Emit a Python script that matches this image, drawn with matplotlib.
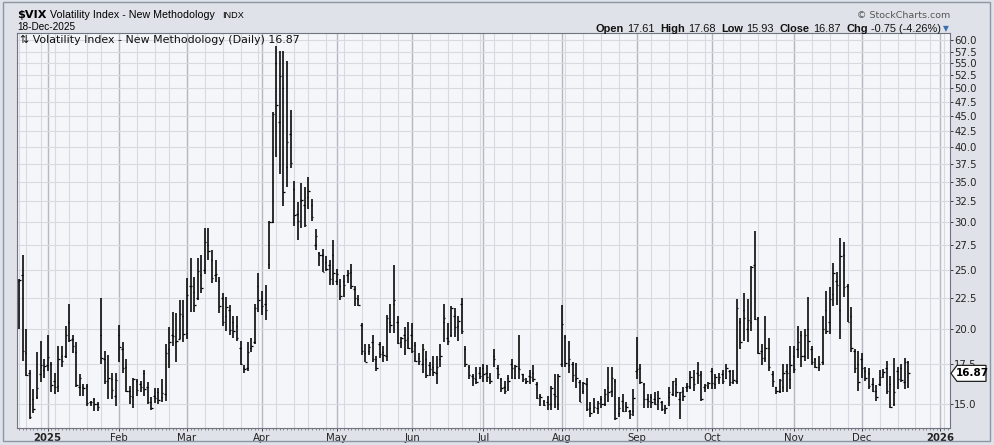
import numpy as np
import pandas as pd
import matplotlib
matplotlib.use('Agg')
import matplotlib.pyplot as plt
from matplotlib.ticker import FixedLocator, FormatStrFormatter, NullLocator
from matplotlib.patches import Polygon, Rectangle

W, H = 994, 445

# daily bars: (open, high, low, close)
dec24 = [(24.0, 24.2, 20.0, 24.09), (24.5, 26.5, 17.7, 18.36), (18.2, 20.0, 16.7, 16.78),
         (16.9, 17.1, 14.2, 14.27), (15.3, 15.9, 14.5, 14.73), (15.4, 18.3, 15.3, 15.95),
         (16.8, 19.1, 16.35, 17.40), (17.1, 17.8, 16.6, 17.35)]
jan = [(17.4, 19.5, 17.0, 17.93), (17.5, 17.6, 15.7, 16.13), (16.4, 16.9, 15.6, 16.04),
       (16.1, 18.7, 15.7, 17.82), (18.0, 18.7, 17.3, 17.70), (18.0, 20.2, 17.9, 19.54),
       (20.5, 22.0, 19.0, 19.19), (19.2, 19.5, 18.2, 18.71), (18.3, 19.0, 16.0, 16.12),
       (16.0, 16.8, 15.5, 16.60), (16.0, 16.2, 15.45, 15.97), (16.1, 16.2, 14.9, 15.06),
       (15.1, 15.2, 14.9, 15.10), (15.3, 15.35, 14.6, 15.02), (15.0, 15.15, 14.6, 14.85),
       (19.5, 22.5, 17.5, 17.90), (17.8, 18.4, 16.2, 16.41), (16.4, 18.1, 15.3, 16.56),
       (16.5, 16.9, 15.3, 15.84), (15.5, 16.9, 14.9, 16.43)]
feb = [(19.5, 20.3, 17.6, 18.62), (18.5, 19.0, 16.9, 17.21), (17.3, 17.8, 15.7, 15.77),
       (15.8, 16.1, 15.0, 15.50), (15.4, 16.6, 14.8, 16.54), (16.4, 16.5, 15.5, 15.81),
       (16.2, 16.4, 15.7, 16.02), (16.9, 17.1, 15.5, 15.89), (16.0, 16.3, 15.0, 15.10),
       (15.1, 15.4, 14.7, 14.77), (15.5, 15.95, 15.05, 15.35), (15.7, 15.95, 15.0, 15.27),
       (15.4, 16.5, 15.1, 15.66), (15.6, 18.9, 15.2, 18.21), (18.5, 20.1, 17.2, 18.98),
       (19.5, 21.3, 18.75, 19.43), (19.0, 21.2, 17.6, 19.10), (19.2, 22.3, 19.2, 21.13),
       (21.0, 22.3, 19.0, 19.63)]
mar = [(19.7, 24.3, 19.2, 22.78), (23.5, 26.2, 21.3, 23.51), (23.0, 24.4, 21.3, 21.93),
       (22.5, 26.2, 22.3, 24.87), (24.5, 26.5, 22.9, 23.37), (25.0, 29.3, 24.6, 27.86),
       (27.5, 29.3, 26.0, 26.92), (26.0, 27.0, 23.8, 24.23), (24.5, 26.0, 23.9, 24.66),
       (24.0, 24.4, 21.2, 21.77), (22.5, 22.9, 20.2, 20.51), (21.0, 22.6, 19.8, 21.70),
       (21.5, 21.9, 19.5, 19.90), (20.5, 21.0, 19.3, 19.80), (20.2, 21.0, 19.1, 19.28),
       (18.6, 19.1, 17.4, 17.48), (17.2, 17.4, 16.9, 17.15), (17.2, 19.0, 17.0, 18.33),
       (18.6, 19.3, 18.3, 18.69), (19.0, 22.0, 18.9, 21.65), (23.5, 24.7, 21.3, 22.28)]
apr = [(22.5, 23.1, 21.1, 21.77), (22.0, 23.6, 20.7, 21.51), (25.6, 30.1, 25.1, 30.02),
       (30.0, 45.6, 29.9, 45.31), (55.0, 58.7, 38.4, 46.98), (44.0, 57.6, 36.1, 52.33),
       (50.0, 57.6, 31.9, 33.62), (37.0, 55.4, 34.3, 40.72), (42.0, 46.0, 36.9, 37.56),
       (34.0, 35.1, 29.6, 30.89), (31.0, 32.4, 28.0, 30.12), (32.5, 34.8, 29.3, 32.64),
       (32.0, 34.3, 29.5, 29.65), (33.0, 35.6, 31.6, 33.82), (32.0, 32.8, 30.2, 30.57),
       (27.5, 29.2, 27.0, 28.45), (26.7, 26.8, 25.4, 26.47), (26.5, 27.1, 24.8, 24.84),
       (25.8, 26.4, 24.9, 25.15), (25.5, 26.0, 23.6, 24.17), (26.5, 28.0, 23.6, 24.70)]
may = [(24.0, 25.1, 23.6, 24.60), (23.5, 24.2, 22.3, 22.68), (24.0, 24.5, 22.6, 23.64),
       (24.5, 25.0, 23.8, 24.76), (24.8, 25.6, 23.3, 23.55), (23.3, 23.5, 21.8, 22.48),
       (22.4, 22.7, 21.8, 21.90), (20.3, 20.4, 18.1, 18.39), (18.2, 18.9, 17.6, 17.61),
       (18.4, 18.9, 18.1, 18.62), (19.0, 19.5, 17.6, 17.83), (17.8, 18.0, 17.0, 17.24),
       (18.9, 19.0, 17.9, 18.14), (18.3, 18.7, 17.6, 18.09), (18.0, 21.1, 17.7, 20.87),
       (20.5, 22.0, 19.7, 20.28), (22.0, 25.5, 19.7, 22.29), (20.5, 21.0, 18.9, 18.96),
       (19.0, 19.4, 18.6, 19.31), (19.5, 20.1, 18.1, 19.18), (19.3, 20.5, 18.5, 18.57)]
jun = [(19.5, 20.4, 18.2, 18.36), (18.8, 19.0, 17.6, 17.69), (17.9, 18.2, 17.4, 17.68),
       (17.5, 18.9, 16.9, 18.48), (17.8, 18.4, 16.6, 16.77), (17.4, 17.6, 16.7, 17.16),
       (17.3, 18.0, 16.7, 16.95), (16.9, 18.0, 16.2, 17.26), (17.8, 18.9, 17.3, 18.02),
       (20.5, 22.0, 19.0, 20.82), (19.3, 20.4, 18.8, 19.11), (19.5, 21.8, 19.4, 21.60),
       (21.0, 21.6, 19.4, 20.14), (20.2, 21.0, 19.1, 20.62), (22.0, 22.5, 19.6, 19.83),
       (18.5, 18.7, 17.3, 17.48), (17.3, 17.4, 16.5, 16.76), (16.7, 16.8, 16.1, 16.59),
       (16.5, 17.3, 16.2, 16.32), (16.9, 17.3, 16.5, 16.73)]
jul = [(17.2, 17.5, 16.3, 16.83), (16.9, 17.4, 16.3, 16.64), (16.5, 16.9, 16.2, 16.38),
       (18.0, 18.5, 17.3, 17.79), (17.2, 17.4, 16.5, 16.81), (16.5, 16.6, 15.7, 15.94),
       (16.0, 16.4, 15.6, 15.78), (16.6, 16.75, 15.8, 16.40), (17.5, 17.8, 16.5, 17.20),
       (16.6, 17.4, 16.5, 17.38), (17.2, 19.5, 16.5, 17.16), (16.8, 16.85, 16.3, 16.52),
       (16.3, 16.6, 16.2, 16.41), (16.7, 17.1, 16.2, 16.65), (16.9, 17.4, 16.3, 16.50),
       (16.2, 16.3, 15.3, 15.37), (15.5, 15.6, 14.9, 15.39), (15.2, 15.25, 14.9, 14.93),
       (15.1, 15.5, 14.7, 15.03), (15.0, 16.1, 14.7, 15.98), (15.6, 16.8, 14.8, 15.48),
       (15.0, 16.8, 14.7, 16.72)]
aug = [(17.5, 21.9, 17.3, 20.38), (19.4, 19.5, 17.3, 17.52), (17.4, 19.1, 16.9, 17.85),
       (17.5, 17.6, 16.35, 16.77), (16.5, 17.55, 15.95, 16.57), (16.3, 16.45, 15.1, 15.15),
       (15.8, 16.35, 15.6, 16.25), (16.2, 16.55, 14.6, 14.73), (14.8, 15.1, 14.3, 14.49),
       (14.6, 15.35, 14.5, 14.83), (14.8, 15.2, 14.45, 15.09), (15.3, 15.5, 14.8, 14.99),
       (15.0, 15.9, 14.9, 15.57), (16.0, 17.3, 15.1, 15.69), (15.8, 17.3, 15.4, 16.60),
       (16.4, 16.5, 14.15, 14.22), (14.5, 15.4, 14.3, 14.79), (15.2, 15.6, 14.55, 14.62),
       (14.9, 15.1, 14.55, 14.85), (14.6, 14.7, 14.2, 14.43), (14.6, 15.9, 14.35, 15.36)]
sep = [(17.0, 19.4, 16.5, 17.17), (17.2, 17.5, 16.2, 16.35), (16.2, 16.25, 14.8, 15.30),
       (15.3, 15.6, 14.8, 15.18), (15.4, 15.6, 14.8, 15.11), (15.3, 15.7, 14.95, 15.04),
       (15.2, 15.8, 14.7, 15.35), (15.1, 15.2, 14.6, 14.71), (14.7, 14.95, 14.45, 14.76),
       (15.4, 16.0, 14.9, 15.69), (15.6, 16.4, 15.5, 16.36), (16.2, 16.6, 15.4, 15.72),
       (15.3, 15.7, 14.2, 15.70), (15.8, 16.0, 15.2, 15.45), (16.0, 16.25, 15.7, 16.10),
       (16.0, 17.0, 15.9, 16.64), (16.5, 17.1, 15.8, 16.18), (16.9, 17.6, 16.2, 16.74),
       (16.8, 17.0, 15.2, 15.29), (16.0, 16.2, 15.7, 16.12), (16.1, 16.3, 15.9, 16.28)]
oct_ = [(17.0, 17.2, 15.9, 16.29), (16.2, 16.8, 15.9, 16.63), (16.5, 16.9, 16.2, 16.65),
        (16.8, 17.1, 16.2, 16.37), (16.6, 17.5, 16.5, 17.24), (17.0, 17.1, 16.1, 16.30),
        (16.3, 17.1, 16.2, 16.43), (16.4, 22.4, 16.2, 21.66), (20.5, 20.8, 18.5, 19.03),
        (21.5, 22.9, 19.1, 20.81), (20.0, 22.4, 19.0, 20.64), (20.5, 25.4, 19.8, 25.31),
        (25.5, 28.99, 20.7, 20.78), (20.8, 20.9, 18.15, 18.23), (18.4, 18.9, 17.4, 17.87),
        (17.9, 21.0, 17.6, 18.60), (18.6, 19.3, 17.0, 17.30), (16.8, 17.0, 16.0, 16.37),
        (16.0, 16.0, 15.6, 15.79), (15.8, 16.5, 15.65, 16.42), (16.0, 17.5, 15.7, 16.92),
        (17.0, 17.5, 15.7, 16.91), (16.5, 18.7, 15.9, 17.44)]
nov = [(18.0, 18.7, 16.9, 17.17), (18.5, 20.2, 17.9, 19.00), (19.5, 19.8, 17.3, 18.01),
       (18.0, 20.0, 17.7, 19.50), (20.0, 22.6, 17.8, 19.08), (18.5, 18.7, 17.4, 17.60),
       (17.8, 17.9, 17.2, 17.28), (17.3, 18.0, 17.0, 17.51), (17.6, 21.0, 17.4, 20.00),
       (21.5, 23.1, 19.6, 19.83), (20.5, 23.4, 19.6, 22.38), (22.8, 25.7, 21.8, 24.69),
       (24.0, 24.8, 21.9, 23.66), (21.5, 28.27, 19.2, 26.42), (26.5, 27.8, 22.6, 23.43),
       (23.5, 23.7, 20.5, 20.52), (21.0, 21.7, 18.3, 18.56), (18.4, 18.5, 16.9, 17.19),
       (17.5, 18.4, 15.8, 16.35)]
dec = [(17.8, 18.2, 16.6, 17.24), (17.0, 17.3, 16.4, 16.59), (16.9, 17.2, 15.9, 16.08),
       (16.2, 16.6, 15.7, 15.78), (15.8, 16.15, 15.2, 15.41), (16.2, 17.1, 16.1, 16.66),
       (16.8, 17.15, 16.55, 16.93), (17.2, 17.7, 15.6, 15.77), (16.2, 16.7, 14.8, 14.85),
       (15.0, 17.9, 14.9, 15.74), (17.0, 17.3, 15.9, 16.50), (17.2, 17.5, 16.3, 16.48),
       (16.3, 17.9, 15.9, 17.62), (17.61, 17.68, 15.93, 16.87)]

y_ticks = [15.0, 17.5, 20.0, 22.5, 25.0, 27.5, 30.0, 32.5, 35.0, 37.5, 40.0,
           42.5, 45.0, 47.5, 50.0, 52.5, 55.0, 57.5, 60.0]
holidays = ['2024-12-25', '2025-01-01', '2025-01-09', '2025-01-20', '2025-02-17',
            '2025-04-18', '2025-05-26', '2025-06-19', '2025-07-04', '2025-09-01',
            '2025-11-27', '2025-12-25', '2026-01-01']

bars = np.array(dec24 + jan + feb + mar + apr + may + jun + jul + aug + sep + oct_ + nov + dec)
o, hi, lo, c = bars.T

# trading calendar (bars plus blank future days)
days = pd.bdate_range('2024-12-19', '2026-01-16')
days = days[~days.isin(pd.to_datetime(holidays))]
pos = np.arange(len(days))
n = len(bars)

fig = plt.figure(figsize=(W / 100, H / 100), dpi=100)
fig.patch.set_facecolor('#dfe2e8')
fig.add_artist(Rectangle((3 / W, 4 / H), 987 / W, 439 / H, transform=fig.transFigure,
                         facecolor='none', edgecolor='#8d96a5', lw=1))

L, R, T, B = 17, 950, 33, 428
ax = fig.add_axes([L / W, 1 - B / H, (R - L) / W, (B - T) / H])
ax.set_facecolor('#f5f6f9')
ax.set_yscale('log')
ax.set_ylim(13.7, 61.7)
ax.set_xlim(-0.6, 260.7)

# grid: weekly light, monthly darker
wk = days.to_period('W')
week_start = pos[np.r_[True, wk[1:] != wk[:-1]]]
mo = days.to_period('M')
month_start = pos[np.r_[True, mo[1:] != mo[:-1]]][1:]
for p in week_start:
    ax.axvline(p, color='#d7dae1', lw=0.8, zorder=0)
for p in month_start:
    ax.axvline(p, color='#b4b8c1', lw=1.0, zorder=0)
for v in y_ticks:
    ax.axhline(v, color='#d7dae1', lw=0.8, zorder=0)

# OHLC bars
x = pos[:n]
ax.vlines(x, lo, hi, color='black', lw=1.15, zorder=3)
ax.hlines(o, x - 0.4, x, color='black', lw=0.9, zorder=3)
ax.hlines(c, x, x + 0.4, color='black', lw=0.9, zorder=3)

# axes
ax.yaxis.tick_right()
ax.yaxis.set_major_locator(FixedLocator(y_ticks))
ax.yaxis.set_minor_locator(NullLocator())
ax.yaxis.set_major_formatter(FormatStrFormatter('%.1f'))
ax.tick_params(axis='y', length=2, width=0.6, pad=1, labelsize=7.3, colors='#222222')

labels = []
for p in month_start:
    d = days[p]
    labels.append(str(d.year) if d.month == 1 else d.strftime('%b'))
ax.set_xticks(month_start)
ax.set_xticklabels(labels)
ax.set_xticks(pos[pos < 261], minor=True)
ax.tick_params(axis='x', which='major', length=2, width=0.6, pad=1.5, labelsize=7.3, colors='#222222')
ax.tick_params(axis='x', which='minor', length=1.5, width=0.5, color='#666666')
for t in ax.get_xticklabels():
    if t.get_text().isdigit():
        t.set_fontweight('bold')
for s in ax.spines.values():
    s.set_color('#6f7480')
    s.set_linewidth(0.8)

# in-chart title
ax.text(0.003, 0.996, '\u21c5 Volatility Index - New Methodology (Daily) 16.87',
        transform=ax.transAxes, ha='left', va='top', fontsize=7.9,
        family='DejaVu Sans', color='#111111')

# last value marker
yl = ax.transData.transform((0, c[-1]))[1]
yl_px = H - yl
x0 = R + 1
poly = [(x0, yl_px), (x0 + 6, yl_px - 8), (x0 + 35, yl_px - 8), (x0 + 35, yl_px + 8),
        (x0 + 6, yl_px + 8)]
fig.add_artist(Polygon([(px / W, 1 - py / H) for px, py in poly], closed=True,
                       transform=fig.transFigure, facecolor='white', edgecolor='#222222',
                       lw=0.9, zorder=5))
fig.text((x0 + 21) / W, 1 - yl_px / H, f'{c[-1]:.2f}', ha='center', va='center',
         fontsize=7.5, fontweight='bold', family='DejaVu Sans', zorder=6)

# header
fig.text(17 / W, 1 - 17.5 / H, '$VIX', fontsize=8.1, fontweight='bold',
         family='DejaVu Sans', va='baseline')
fig.text(50 / W, 1 - 17.5 / H, 'Volatility Index - New Methodology', fontsize=7.7,
         family='Liberation Sans', va='baseline')
fig.text(222 / W, 1 - 17.5 / H, 'INDX', fontsize=6.6, family='Liberation Sans', va='baseline')
fig.text(17 / W, 1 - 29.5 / H, '18-Dec-2025', fontsize=7.2, family='Liberation Sans',
         va='baseline')
fig.text(950 / W, 1 - 18.5 / H, '\u00a9 StockCharts.com', fontsize=6.8, ha='right',
         family='DejaVu Sans', color='#555555', va='baseline')

pieces = [('Open', 1, 3), ('17.61', 0, 6), ('High', 1, 3), ('17.68', 0, 6), ('Low', 1, 3),
          ('15.93', 0, 6), ('Close', 1, 3), ('16.87', 0, 6), ('Chg', 1, 3),
          ('-0.75 (-4.26%)', 0, 0)]
r = fig.canvas.get_renderer()
items = []
for s, bold, gap in pieces:
    t = fig.text(0, 1 - 31.5 / H, s, fontsize=7.9, family='Liberation Sans',
                 fontweight='bold' if bold else 'normal', va='baseline', color='#111111')
    items.append((t, t.get_window_extent(r).width, gap))
xr = 941 - sum(w + g for _, w, g in items)
for t, w, g in items:
    t.set_x(xr / W)
    xr += w + g
fig.text(946 / W, 1 - 31.5 / H, '\u25bc', fontsize=5.5, color='#3d6fb0', ha='center',
         va='baseline', family='DejaVu Sans')

fig.savefig('out.png', dpi=100, facecolor=fig.get_facecolor())
